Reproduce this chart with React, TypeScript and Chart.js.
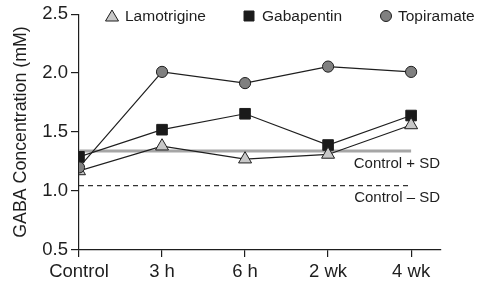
import React, { useEffect, useRef } from "react";
import { Chart, registerables } from "chart.js";

Chart.register(...registerables);

const categories = ["Control", "3 h", "6 h", "2 wk", "4 wk"];
const lamotrigine = [1.17, 1.38, 1.27, 1.31, 1.56];
const gabapentin = [1.29, 1.52, 1.655, 1.39, 1.64];
const topiramate = [1.2, 2.01, 1.915, 2.055, 2.01];
const controlPlusSD = 1.34;
const controlMinusSD = 1.045;
const yTicks = [0.5, 1.0, 1.5, 2.0, 2.5];

const FONT = "'Liberation Sans', Arial, Helvetica, sans-serif";
const INK = "#1e1e1e";

const toXY = (arr: number[]) => arr.map((y, i) => ({ x: i, y }));

const legendItems = [
  { label: "Lamotrigine", shape: "triangle", fill: "#c8c8c8", mx: 112, tx: 125 },
  { label: "Gabapentin", shape: "rect", fill: "#1a1a1a", mx: 249, tx: 262 },
  { label: "Topiramate", shape: "circle", fill: "#808080", mx: 386, tx: 398 },
];

const overlayPlugin = {
  id: "overlay",
  afterDraw(chart: any) {
    const ctx = chart.ctx;
    const area = chart.chartArea;
    const ys = chart.scales.y;
    ctx.save();
    const ly = 16;
    ctx.font = `15.5px ${FONT}`;
    ctx.textBaseline = "middle";
    ctx.textAlign = "left";
    legendItems.forEach((it) => {
      ctx.beginPath();
      ctx.lineWidth = 1;
      ctx.strokeStyle = INK;
      ctx.fillStyle = it.fill;
      if (it.shape === "triangle") {
        ctx.moveTo(it.mx, ly - 6);
        ctx.lineTo(it.mx + 6.5, ly + 5);
        ctx.lineTo(it.mx - 6.5, ly + 5);
        ctx.closePath();
      } else if (it.shape === "rect") {
        ctx.rect(it.mx - 5, ly - 5, 10, 10);
      } else {
        ctx.arc(it.mx, ly, 5.5, 0, Math.PI * 2);
      }
      ctx.fill();
      ctx.stroke();
      ctx.fillStyle = INK;
      ctx.fillText(it.label, it.tx, ly + 1);
    });
    ctx.font = `15px ${FONT}`;
    ctx.textAlign = "right";
    ctx.fillStyle = INK;
    ctx.fillText("Control + SD", area.right - 1, ys.getPixelForValue(controlPlusSD) + 13);
    ctx.fillText("Control \u2013 SD", area.right - 1, ys.getPixelForValue(controlMinusSD) + 12);
    ctx.restore();
  },
};

export default function App() {
  const ref = useRef<HTMLCanvasElement | null>(null);
  useEffect(() => {
    if (!ref.current) return;
    const seriesStyle = {
      borderColor: INK,
      borderWidth: 1.2,
      pointBorderColor: INK,
      pointBorderWidth: 1,
      tension: 0,
      fill: false,
    };
    const chart = new Chart(ref.current, {
      type: "line",
      data: {
        datasets: [
          {
            label: "Topiramate",
            data: toXY(topiramate),
            ...seriesStyle,
            pointStyle: "circle",
            pointRadius: 5.6,
            pointBackgroundColor: "#808080",
            order: 1,
          },
          {
            label: "Lamotrigine",
            data: toXY(lamotrigine),
            ...seriesStyle,
            pointStyle: "triangle",
            pointRadius: 7.5,
            pointBackgroundColor: "#c8c8c8",
            order: 2,
          },
          {
            label: "Gabapentin",
            data: toXY(gabapentin),
            ...seriesStyle,
            pointStyle: "rect",
            pointRadius: 7.5,
            pointBackgroundColor: "#1a1a1a",
            order: 3,
          },
          {
            label: "Control + SD",
            data: [
              { x: 0, y: controlPlusSD },
              { x: categories.length - 1, y: controlPlusSD },
            ],
            borderColor: "#a6a6a6",
            borderWidth: 3,
            pointRadius: 0,
            order: 4,
          },
          {
            label: "Control - SD",
            data: [
              { x: 0, y: controlMinusSD },
              { x: categories.length - 1, y: controlMinusSD },
            ],
            borderColor: "#333",
            borderWidth: 1.2,
            borderDash: [5, 4],
            pointRadius: 0,
            order: 5,
          },
        ],
      },
      options: {
        animation: false,
        responsive: true,
        maintainAspectRatio: false,
        layout: { padding: { top: 12, right: 36, bottom: 0, left: 0 } },
        plugins: { legend: { display: false }, tooltip: { enabled: false } },
        scales: {
          x: {
            type: "linear",
            min: 0,
            max: 4.36,
            afterBuildTicks: (s: any) => {
              s.ticks = categories.map((_, i) => ({ value: i }));
            },
            afterFit: (s: any) => {
              s.height = 35;
            },
            ticks: {
              callback: (v: any) => categories[v] ?? "",
              color: INK,
              font: { family: FONT, size: 18.5 },
              padding: 4,
              maxRotation: 0,
              autoSkip: false,
            },
            grid: {
              display: true,
              drawOnChartArea: false,
              drawTicks: true,
              tickLength: 7,
              color: INK,
              lineWidth: 1.2,
            },
            border: { display: true, color: INK, width: 1.2 },
          },
          y: {
            type: "linear",
            min: 0.5,
            max: 2.5,
            afterBuildTicks: (s: any) => {
              s.ticks = yTicks.map((v) => ({ value: v }));
            },
            afterFit: (s: any) => {
              s.width = 79;
            },
            ticks: {
              callback: (v: any) => Number(v).toFixed(1),
              color: INK,
              font: { family: FONT, size: 18.5 },
              padding: 3,
            },
            grid: {
              display: true,
              drawOnChartArea: false,
              drawTicks: true,
              tickLength: 8,
              color: INK,
              lineWidth: 1.2,
            },
            border: { display: true, color: INK, width: 1.2 },
            title: {
              display: true,
              text: "GABA Concentration (mM)",
              color: INK,
              font: { family: FONT, size: 17.8 },
              padding: { top: 10, bottom: 0 },
            },
          },
        },
      },
      plugins: [overlayPlugin],
    } as any);
    return () => chart.destroy();
  }, []);
  return (
    <div style={{ position: "fixed", left: 0, top: 0, width: 477, height: 285, background: "#fff" }}>
      <canvas ref={ref} />
    </div>
  );
}
